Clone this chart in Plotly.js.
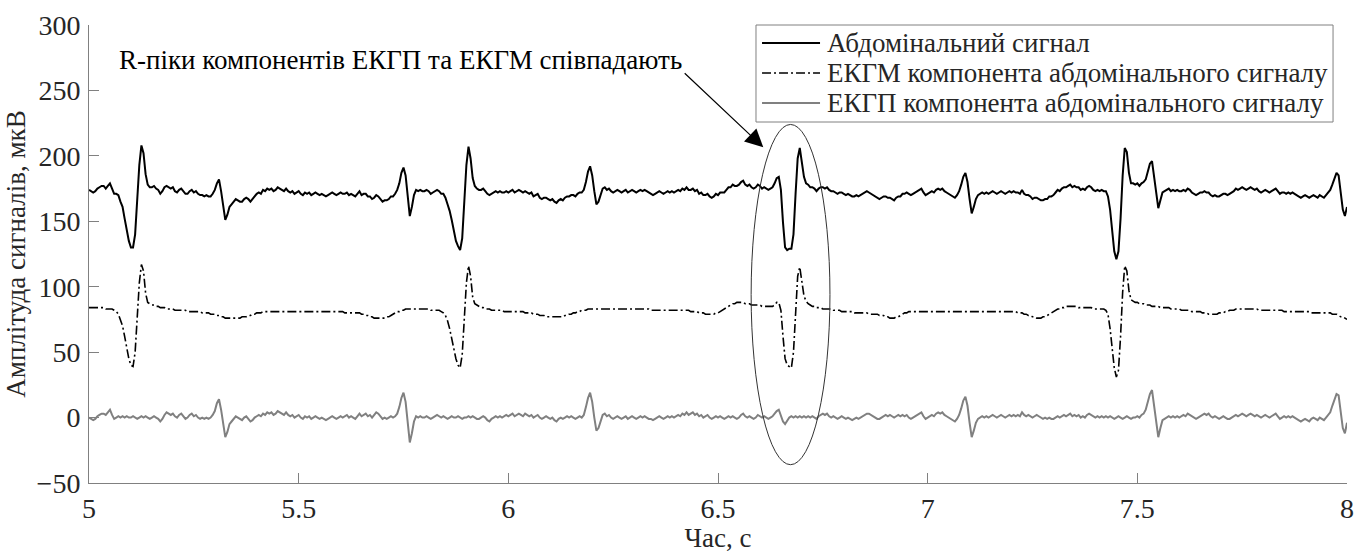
<!DOCTYPE html>
<html>
<head>
<meta charset="utf-8">
<script src="https://cdn.plot.ly/plotly-3.0.1.min.js"></script>
<style>html,body{margin:0;padding:0;background:#fff;}</style>
</head>
<body>
<div id="chart" style="width:1357px;height:553px;"></div>
<script>
// Sampling: 200 Hz, from 5 s to 8 s
const sampleRate = 200;
const startTime = 5;

const seriesNames = [
  "Абдомінальний сигнал",
  "ЕКГМ компонента абдомінального сигналу",
  "ЕКГП компонента абдомінального сигналу"
];

// Abdominal signal, uV
const abdominal = [
174,173,172,173,175,176,177,177,175,177,179,175,171,171,170,165,161,152,144,135,
130,130,140,164,193,208,202,186,178,176,176,177,175,174,171,173,176,177,176,175,
176,173,172,174,175,173,171,171,173,174,172,173,171,170,170,169,170,169,169,171,
174,179,182,173,161,151,155,161,163,165,167,166,165,165,167,168,167,165,167,169,
171,172,171,174,173,175,174,175,173,174,176,175,174,173,175,173,172,173,171,172,
173,171,170,172,171,172,170,171,172,171,170,171,170,169,170,171,172,171,170,171,
172,171,171,172,170,171,170,169,171,173,170,171,171,169,169,167,168,170,169,167,
165,166,166,167,169,169,171,174,179,187,191,185,171,154,161,170,174,173,174,173,
173,174,173,171,172,173,174,173,171,171,168,163,158,151,142,135,131,128,137,165,
193,207,198,183,177,175,174,174,175,173,171,170,171,172,173,172,173,172,172,173,
172,173,174,172,173,174,173,172,173,172,171,172,169,170,171,168,167,168,168,167,
166,167,165,164,166,167,166,168,169,169,170,170,169,171,172,172,174,180,188,192,
185,173,163,165,171,175,176,174,175,173,172,173,174,173,172,173,174,172,173,174,
173,172,173,174,173,174,173,172,171,170,171,172,173,172,171,172,173,172,173,172,
173,174,173,175,174,176,174,174,175,173,174,171,172,170,170,171,169,168,169,171,
170,172,172,172,174,176,176,178,177,177,178,180,181,178,177,178,176,175,176,178,
177,175,176,175,174,175,176,179,183,184,174,149,130,128,129,129,140,171,198,206,
194,184,179,178,176,176,175,173,175,176,176,175,176,174,173,173,172,171,172,172,
171,170,171,170,169,169,170,169,170,171,172,173,172,171,170,169,168,167,168,169,
169,168,168,167,166,168,169,169,171,171,172,171,170,171,172,173,174,175,172,170,
171,172,173,172,174,175,174,175,173,172,171,170,169,168,170,173,178,184,187,180,
167,156,161,167,170,171,172,171,172,171,172,173,172,171,172,173,172,171,172,173,
172,173,172,172,171,174,171,170,170,169,167,168,168,167,166,166,167,167,169,169,
170,172,174,173,175,176,176,177,178,176,177,176,176,174,175,174,176,177,176,174,
173,174,173,174,173,173,169,159,142,127,121,127,152,185,206,203,187,179,179,178,
179,177,179,180,182,188,194,196,185,171,160,166,172,173,174,175,173,174,173,174,
173,173,174,173,175,174,172,171,170,171,172,172,173,172,172,170,169,170,169,169,
170,171,171,170,171,172,173,175,174,175,176,175,174,175,176,175,174,175,173,172,
173,174,173,172,173,174,175,173,171,172,172,171,172,171,172,171,170,169,168,169,
170,169,168,169,170,169,168,170,169,168,170,172,174,178,183,187,185,171,159,154,
161];

// Maternal ECG component, uV
const maternal = [
84,84,84,84,84,84,84,84,83,83,83,83,82,81,79,75,70,62,53,45,
40,39,50,75,103,117,112,95,88,87,86,86,85,85,84,84,84,83,83,83,
83,82,82,82,82,82,82,81,81,81,81,81,81,81,80,80,80,80,79,79,
79,78,78,77,77,76,76,76,76,76,76,76,76,77,77,77,78,78,79,79,
80,80,80,81,81,81,81,81,81,81,81,81,81,81,81,81,81,81,81,81,
81,81,81,81,81,81,81,81,81,81,81,81,81,81,81,81,81,81,81,81,
81,81,80,80,80,80,80,80,80,80,79,79,78,78,77,77,76,76,76,76,
76,76,77,77,78,79,80,81,81,82,82,83,83,83,83,83,83,83,83,83,
83,83,83,82,82,82,82,82,81,80,78,74,68,60,52,45,40,38,48,75,
103,116,108,92,87,86,85,84,84,83,83,83,82,82,82,82,82,82,81,81,
81,81,81,81,81,81,81,81,80,80,80,80,79,79,79,78,78,78,77,77,
77,77,77,77,77,77,77,78,78,79,79,80,80,81,81,82,82,82,83,83,
83,83,83,83,83,83,83,83,83,83,83,83,83,83,83,83,83,83,83,83,
83,83,83,83,83,83,83,83,82,82,82,82,82,82,82,82,82,82,82,82,
82,82,82,82,82,82,82,81,81,81,81,80,80,80,79,79,79,79,79,80,
80,81,82,83,84,85,86,87,87,88,88,88,88,87,87,87,86,86,86,86,
86,85,85,85,85,85,85,86,88,88,82,62,45,40,39,38,50,80,108,115,
104,93,89,87,86,85,85,84,84,84,83,83,83,83,83,82,82,82,82,81,
81,81,81,81,81,80,80,80,80,80,80,80,79,79,79,79,79,78,78,78,
77,77,76,76,76,77,77,78,79,80,80,81,81,81,81,81,81,81,81,81,
81,81,81,81,81,81,81,81,81,81,81,81,81,81,81,81,81,81,81,81,
81,81,81,81,81,81,81,81,81,81,81,81,81,81,81,81,81,81,81,81,
81,81,81,80,80,80,79,79,78,78,77,77,76,76,76,77,77,78,79,80,
81,82,83,83,84,84,85,85,85,85,85,85,84,84,84,84,84,84,84,83,
83,83,83,83,83,82,79,68,52,38,31,36,62,96,116,112,97,90,89,88,
88,87,87,87,86,86,86,85,85,85,85,84,84,84,84,84,83,83,83,83,
83,82,82,82,82,82,81,81,81,81,81,80,80,80,79,79,79,79,79,80,
80,80,81,81,82,82,82,83,83,83,83,83,83,83,83,83,83,83,82,82,
82,82,82,82,82,82,82,82,82,82,81,81,81,81,81,81,81,81,81,81,
81,81,81,80,80,80,80,80,80,80,80,80,80,79,79,79,78,77,77,76,
75];

// Fetal ECG component, uV
const fetal = [
0,-1,-2,-1,1,2,3,3,2,4,6,2,-1,0,1,0,1,0,1,0,
0,1,0,-1,0,1,0,1,0,-1,0,1,0,-1,-3,-1,2,4,3,2,
3,1,0,2,3,1,-1,0,2,3,1,2,0,-1,0,-1,0,-1,0,2,
5,11,14,6,-6,-15,-11,-5,-3,-1,1,0,-1,-2,0,1,-1,-3,-2,0,
1,2,1,3,2,4,3,4,2,3,5,4,3,2,4,2,1,2,0,1,
2,0,-1,1,0,1,-1,0,1,0,-1,0,-1,-2,-1,0,1,0,-1,0,
1,0,1,2,0,1,0,-1,1,3,1,2,3,1,2,0,2,4,3,1,
-1,0,-1,0,1,0,1,3,8,15,19,12,-2,-19,-12,-3,1,0,1,0,
0,1,0,-1,0,1,2,1,0,1,0,-1,0,1,0,0,1,0,-1,0,
0,1,0,1,0,-1,-1,0,1,0,-2,-3,-1,0,1,0,1,0,1,2,
1,2,3,1,2,3,2,1,3,2,1,2,0,1,2,0,-1,0,1,0,
-1,0,-2,-3,-1,0,-1,0,1,0,1,0,-1,0,1,0,2,8,15,19,
12,0,-10,-8,-2,2,3,1,2,0,-1,0,1,0,-1,0,1,-1,0,1,
0,-1,0,1,0,1,0,-1,-1,-2,-1,0,1,0,-1,0,1,0,1,0,
1,2,1,3,2,4,2,3,4,2,3,1,2,0,1,2,0,-1,0,1,
0,1,0,-1,0,1,0,1,0,-1,0,2,3,1,0,1,0,-1,0,2,
1,0,1,0,-1,0,1,3,5,6,2,-3,-5,-2,0,1,0,1,0,1,
0,1,0,1,0,1,0,-1,1,2,3,2,3,1,0,1,0,-1,0,1,
0,-1,0,-1,-2,-1,0,-1,0,1,2,3,3,2,1,0,-1,-1,0,1,
2,1,2,1,0,1,2,1,2,1,2,0,-1,0,1,2,3,4,1,-1,
0,1,2,1,3,4,3,4,2,1,0,-1,-2,-3,-1,2,7,13,16,9,
-4,-15,-10,-4,-1,0,1,0,1,0,1,2,1,0,1,2,1,0,1,2,
1,2,1,2,1,4,2,1,2,1,0,1,2,1,0,-1,0,-1,0,-1,
-1,0,1,0,1,2,1,2,3,1,2,1,2,0,1,0,2,3,2,1,
0,1,0,1,0,1,0,1,0,-1,0,1,0,-1,0,1,0,-1,0,0,
1,0,2,3,6,12,18,21,10,-4,-15,-8,-2,-1,0,1,0,1,0,1,
0,1,2,1,3,2,1,0,-1,0,1,2,3,2,3,1,0,1,0,-1,
0,1,0,-1,-1,0,1,2,1,2,3,2,1,2,3,2,1,2,1,0,
1,2,1,0,1,2,3,1,-1,0,1,0,1,0,1,0,-1,-2,-3,-2,
-1,-2,-3,-1,0,-1,-2,0,-1,-2,0,2,4,9,14,18,17,4,-8,-12,
-4];

const annotationText = "R-піки компонентів ЕКГП та ЕКГМ співпадають";
const xTitle = "Час, с";
const yTitle = "Амплітуда сигналів, мкВ";

function timeAxis(n) {
  const t = [];
  for (let i = 0; i < n; i++) t.push(+(startTime + i / sampleRate).toFixed(4));
  return t;
}

const FONT = "'Liberation Serif', 'Times New Roman', serif";
const AXIS_COLOR = "#808080";
const TXT = "#262626";

const lineStyles = [
  {color: "#000000", width: 2},
  {color: "#000000", width: 1.6, dash: "9px,3px,2px,3px"},
  {color: "#808080", width: 2}
];

const traces = [
  {x: timeAxis(abdominal.length), y: abdominal, name: seriesNames[0], type: "scatter", mode: "lines", line: lineStyles[0]},
  {x: timeAxis(maternal.length), y: maternal, name: seriesNames[1], type: "scatter", mode: "lines", line: lineStyles[1]},
  {x: timeAxis(fetal.length), y: fetal, name: seriesNames[2], type: "scatter", mode: "lines", line: lineStyles[2]}
];

const axisCommon = {
  showgrid: false, zeroline: false, showline: true, mirror: false,
  linecolor: AXIS_COLOR, linewidth: 1,
  ticks: "inside", ticklen: 10, tickcolor: AXIS_COLOR, tickwidth: 1,
  tickfont: {family: FONT, size: 28, color: TXT},
  automargin: false
};

// Legend box (paper coordinates), drawn as shapes + annotations
const legendBox = {x0: 0.5302, x1: 0.9889, y0: 0.7882, y1: 1.0};
const legendRowsY = [0.9607, 0.8952, 0.8297];
const legendLineX = [0.5350, 0.5811];
const legendTextX = 0.5851;

const shapes = [
  {type: "circle", xref: "x", yref: "y", x0: 6.579, x1: 6.767, y0: -36, y1: 224,
   line: {color: "#333333", width: 1}, layer: "above"},
  {type: "rect", xref: "paper", yref: "paper", x0: legendBox.x0, x1: legendBox.x1, y0: legendBox.y0, y1: legendBox.y1,
   line: {color: AXIS_COLOR, width: 1}, fillcolor: "#ffffff", layer: "above"}
];
const annotations = [
  {x: 5.744, y: 273.6, xref: "x", yref: "y", text: annotationText, showarrow: false,
   font: {family: FONT, size: 27, color: "#000000"}},
  {x: 6.608, y: 206.5, xref: "x", yref: "y", ax: 6.417, ay: 264.2, axref: "x", ayref: "y",
   text: "", showarrow: true, arrowhead: 2, arrowsize: 3, arrowwidth: 1.2, arrowcolor: "#000000"}
];
seriesNames.forEach((name, i) => {
  shapes.push({type: "line", xref: "paper", yref: "paper",
    x0: legendLineX[0], x1: legendLineX[1], y0: legendRowsY[i], y1: legendRowsY[i],
    line: lineStyles[i], layer: "above"});
  annotations.push({xref: "paper", yref: "paper", x: legendTextX, y: legendRowsY[i],
    xanchor: "left", yanchor: "middle", text: name, showarrow: false,
    font: {family: FONT, size: 27, color: TXT}});
});

const layout = {
  width: 1357, height: 553,
  margin: {l: 89, r: 10, t: 25, b: 70, pad: 0},
  paper_bgcolor: "#ffffff", plot_bgcolor: "#ffffff",
  font: {family: FONT, size: 27, color: TXT},
  showlegend: false,
  xaxis: Object.assign({}, axisCommon, {
    range: [5, 8], tick0: 5, dtick: 0.5,
    title: {text: xTitle, font: {family: FONT, size: 27, color: TXT}, standoff: 12}
  }),
  yaxis: Object.assign({}, axisCommon, {
    range: [-50, 300], tick0: -50, dtick: 50, ticklabelstandoff: 2,
    title: {text: yTitle, font: {family: FONT, size: 27, color: TXT}, standoff: 3}
  }),
  annotations: annotations,
  shapes: shapes
};

Plotly.newPlot("chart", traces, layout, {staticPlot: true, displayModeBar: false});
</script>
</body>
</html>
